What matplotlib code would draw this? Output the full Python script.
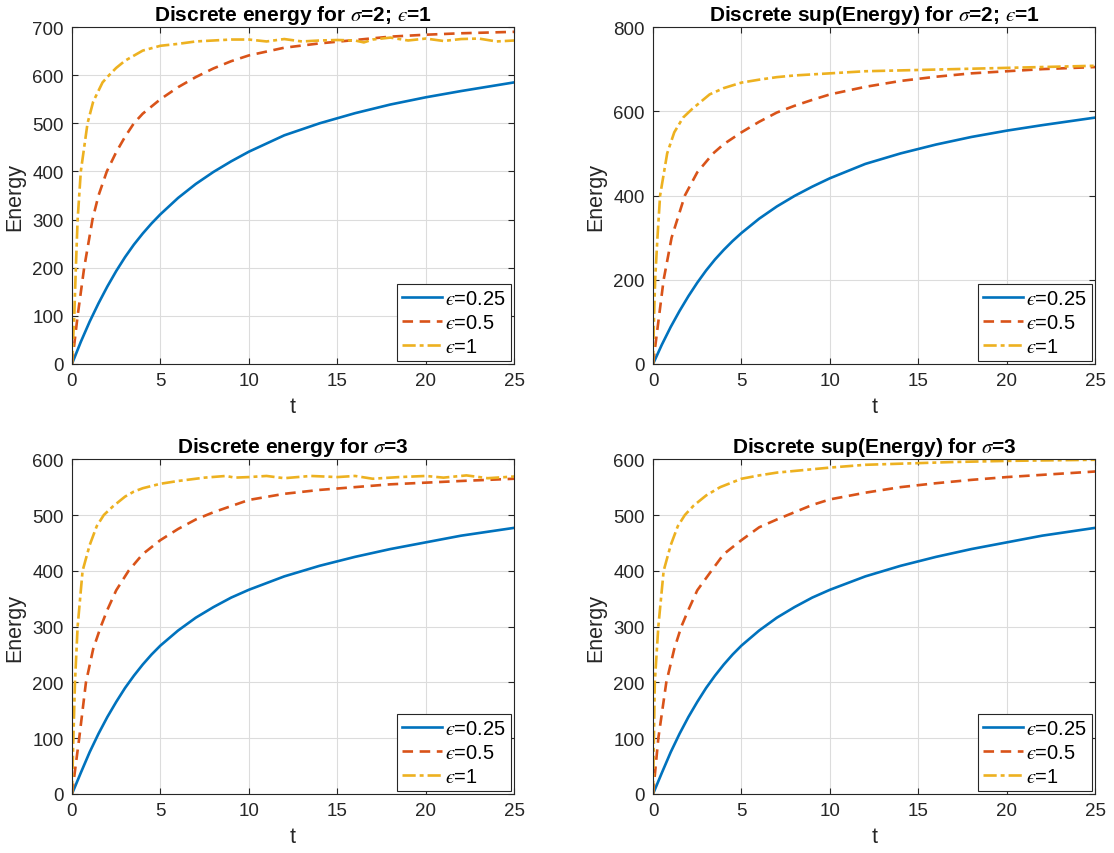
import numpy as np
import matplotlib
matplotlib.use("Agg")
import matplotlib.pyplot as plt

plt.rcParams["font.family"] = ["Liberation Sans", "DejaVu Sans"]
plt.rcParams["mathtext.fontset"] = "stix"

# values (t, energy) per subplot and epsilon
# sigma=2, energy
t_a1 = [0, 0.5, 1, 1.5, 2, 2.5, 3, 3.5, 4, 4.5, 5, 6, 7, 8, 9, 10, 12, 14, 16, 18, 20, 22, 25]
e_a1 = [0, 46, 88, 126, 161, 193, 222, 248, 271, 292, 311, 345, 374, 399, 421, 441, 475, 500, 521, 539, 554, 567, 585]
t_a2 = [0, 0.32, 0.69, 1.16, 1.5, 1.97, 2.5, 3, 3.5, 4, 5, 6, 7, 8, 9, 10, 12, 14, 16, 18, 20, 22, 25]
e_a2 = [0, 100, 200, 300, 350, 400, 440, 472, 500, 520, 550, 575, 596, 614, 629, 641, 657, 666, 673, 680, 684, 687, 690]
t_a3 = [0, 0.13, 0.22, 0.32, 0.5, 0.88, 1.2, 1.73, 2.1, 2.5, 3, 4, 5, 6, 7, 8, 9, 10, 11, 12, 13, 14, 15,
        16, 16.5, 17, 18, 19, 20, 21, 22, 23, 24, 25]
e_a3 = [0, 100, 200, 300, 400, 500, 545, 585, 600, 615, 630, 651, 661, 665, 670, 672, 674, 674, 670, 675,
        670, 672, 673, 672, 668, 674, 678, 672, 676, 671, 675, 676, 670, 672]

# sigma=2, sup(energy)
t_b1 = [0, 0.5, 1, 1.5, 2, 2.5, 3, 3.5, 4, 4.5, 5, 6, 7, 8, 9, 10, 12, 14, 16, 18, 20, 22, 25]
e_b1 = [0, 46, 88, 126, 161, 193, 222, 248, 271, 292, 311, 345, 374, 399, 421, 441, 475, 500, 521, 539, 554, 567, 585]
t_b2 = [0, 0.3, 0.6, 1.05, 1.8, 2.5, 3.4, 4, 5, 6, 7, 8, 9, 10, 12, 14, 16, 18, 20, 22, 25]
e_b2 = [0, 100, 200, 300, 400, 455, 500, 522, 550, 575, 597, 613, 627, 640, 658, 672, 682, 690, 695, 700, 705]
t_b3 = [0, 0.05, 0.12, 0.25, 0.4, 0.8, 1.2, 1.7, 2.2, 3.2, 4, 5, 6, 7, 8, 10, 12, 15, 20, 25]
e_b3 = [0, 100, 200, 300, 400, 500, 550, 585, 605, 640, 655, 668, 675, 681, 685, 690, 695, 698, 703, 708]

# sigma=3, energy
t_c1 = [0, 0.5, 1, 1.5, 2, 2.5, 3, 3.5, 4, 4.5, 5, 6, 7, 8, 9, 10, 12, 14, 16, 18, 20, 22, 25]
e_c1 = [0, 38, 75, 108, 138, 165, 190, 212, 232, 250, 266, 293, 316, 335, 352, 366, 390, 409, 425, 439, 451, 463, 477]
t_c2 = [0, 0.41, 0.79, 1.2, 1.63, 2, 2.5, 3.2, 4, 5, 6, 7, 8, 9, 10, 12, 14, 16, 18, 20, 22, 25]
e_c2 = [0, 100, 200, 260, 300, 330, 365, 400, 430, 455, 475, 492, 505, 516, 527, 538, 545, 550, 555, 558, 561, 565]
t_c3 = [0, 0.08, 0.17, 0.32, 0.6, 1, 1.4, 1.8, 2.3, 3, 3.5, 4, 5, 6, 7, 7.5, 8.7, 9.2, 10, 11, 12, 13.5,
        15, 16, 17, 18.5, 20, 21, 22.3, 23.5, 25]
e_c3 = [0, 100, 200, 300, 400, 446, 480, 500, 515, 533, 542, 548, 556, 561, 565, 567, 570, 567, 568, 570,
        566, 570, 568, 570, 565, 568, 570, 567, 571, 566, 569]

# sigma=3, sup(energy)
t_d1 = [0, 0.5, 1, 1.5, 2, 2.5, 3, 3.5, 4, 4.5, 5, 6, 7, 8, 9, 10, 12, 14, 16, 18, 20, 22, 25]
e_d1 = [0, 38, 75, 108, 138, 165, 190, 212, 232, 250, 266, 293, 316, 335, 352, 366, 390, 409, 425, 439, 451, 463, 477]
t_d2 = [0, 0.3, 0.75, 1.2, 1.6, 2, 2.5, 3.3, 4, 5, 6, 7, 8, 9, 10, 12, 14, 16, 18, 20, 22, 25]
e_d2 = [0, 100, 200, 260, 300, 330, 365, 400, 430, 455, 478, 492, 505, 518, 528, 540, 550, 557, 563, 568, 572, 578]
t_d3 = [0, 0.05, 0.1, 0.3, 0.6, 1, 1.4, 1.8, 2.3, 3, 3.8, 5, 6, 7, 8, 10, 12, 15, 17, 20, 25]
e_d3 = [0, 100, 200, 300, 400, 446, 480, 500, 517, 535, 550, 565, 571, 576, 579, 585, 590, 593, 595, 597, 599]

EPS = "$\u03f5$"
titles = ["Discrete energy for $\\sigma$=2; " + EPS + "=1",
          "Discrete sup(Energy) for $\\sigma$=2; " + EPS + "=1",
          "Discrete energy for $\\sigma$=3",
          "Discrete sup(Energy) for $\\sigma$=3"]
labels = [EPS + "=0.25", EPS + "=0.5", EPS + "=1"]
ylims = [700, 800, 600, 600]
yticks = [np.arange(0, 701, 100), np.arange(0, 801, 200), np.arange(0, 601, 100), np.arange(0, 601, 100)]

panels = [
    [(t_a1, e_a1), (t_a2, e_a2), (t_a3, e_a3)],
    [(t_b1, e_b1), (t_b2, e_b2), (t_b3, e_b3)],
    [(t_c1, e_c1), (t_c2, e_c2), (t_c3, e_c3)],
    [(t_d1, e_d1), (t_d2, e_d2), (t_d3, e_d3)],
]

colors = ["#0072BD", "#D95319", "#EDB120"]
styles = ["-", (0, (4, 2.5)), (0, (5, 1.5, 1.5, 1.5))]

fig = plt.figure(figsize=(11.14, 8.54), dpi=100)
boxes = [
    [0.0646, 0.5726, 0.397, 0.3946],
    [0.5862, 0.5726, 0.397, 0.3946],
    [0.0646, 0.0691, 0.397, 0.392],
    [0.5862, 0.0691, 0.397, 0.392],
]

edge = "#262626"
for i, box in enumerate(boxes):
    ax = fig.add_axes(box)
    for (t, e), c, ls, lab in zip(panels[i], colors, styles, labels):
        ax.plot(t, e, color=c, linestyle=ls, linewidth=1.9, label=lab)
    ax.set_xlim(0, 25)
    ax.set_ylim(0, ylims[i])
    ax.set_xticks([0, 5, 10, 15, 20, 25])
    ax.set_yticks(yticks[i])
    ax.grid(True, color="#dcdcdc", linewidth=0.8)
    ax.set_axisbelow(True)
    for sp in ax.spines.values():
        sp.set_color(edge)
        sp.set_linewidth(0.8)
    ax.tick_params(direction="in", length=4, labelsize=13.5, colors=edge,
                   top=True, right=True, pad=6)
    ax.set_title(titles[i], fontsize=15, fontweight="bold", pad=5)
    ax.set_xlabel("t", fontsize=15.5, color=edge, labelpad=5)
    ax.set_ylabel("Energy", fontsize=15.5, color=edge, labelpad=5)
    leg = ax.legend(loc="lower right", fontsize=14.5, fancybox=False, framealpha=1,
                    borderaxespad=0.15, handlelength=2.0, handletextpad=0.15,
                    borderpad=0.25, labelspacing=0.25)
    leg.get_frame().set_edgecolor(edge)
    leg.get_frame().set_linewidth(0.8)

fig.savefig("out.png", dpi=100)
